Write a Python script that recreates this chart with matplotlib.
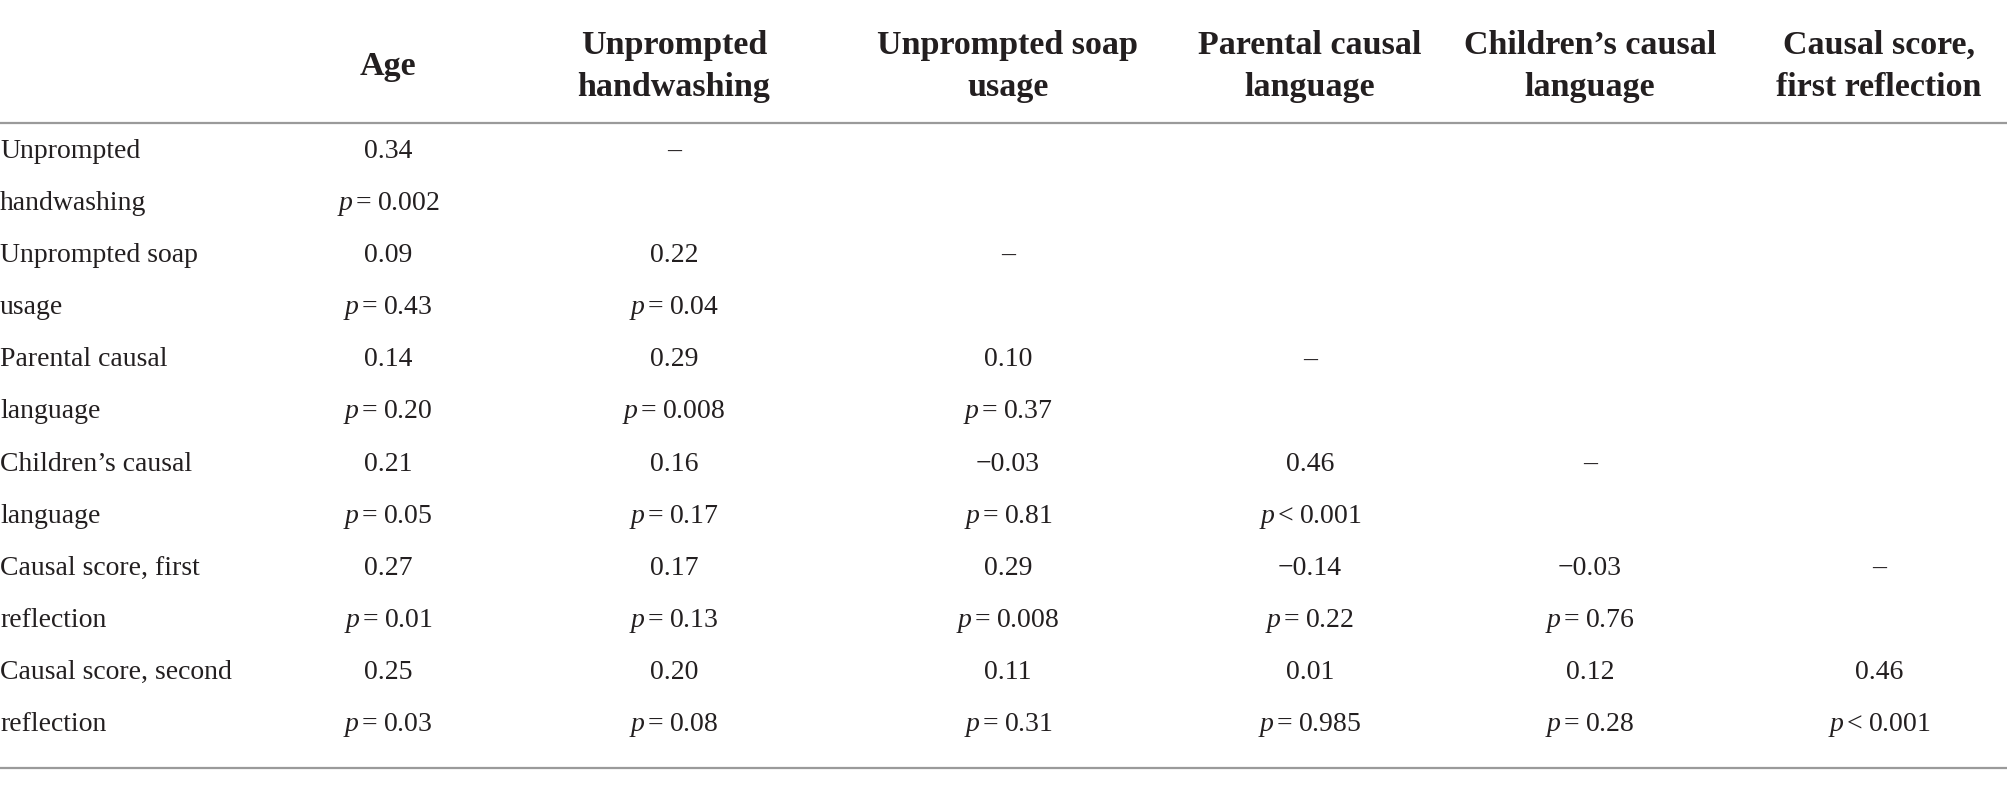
import matplotlib
matplotlib.use("Agg")
from matplotlib import pyplot as plt

# table content
col_labels = ["Age", "Unprompted\nhandwashing", "Unprompted soap\nusage",
              "Parental causal\nlanguage", "Children\u2019s causal\nlanguage",
              "Causal score,\nfirst reflection"]
row_line1 = ["Unprompted", "Unprompted soap", "Parental causal",
             "Children\u2019s causal", "Causal score, first", "Causal score, second"]
row_line2 = ["handwashing", "usage", "language", "language", "reflection", "reflection"]

r_vals = [
    [0.34, None],
    [0.09, 0.22, None],
    [0.14, 0.29, 0.10, None],
    [0.21, 0.16, -0.03, 0.46, None],
    [0.27, 0.17, 0.29, -0.14, -0.03, None],
    [0.25, 0.20, 0.11, 0.01, 0.12, 0.46],
]
p_vals = [
    ["=0.002"],
    ["=0.43", "=0.04"],
    ["=0.20", "=0.008", "=0.37"],
    ["=0.05", "=0.17", "=0.81", "<0.001"],
    ["=0.01", "=0.13", "=0.008", "=0.22", "=0.76"],
    ["=0.03", "=0.08", "=0.31", "=0.985", "=0.28", "<0.001"],
]

TXT = "#231f20"
LINE = "#9a9a9a"
FONT = "Liberation Serif"
plt.rcParams['mathtext.fontset'] = 'custom'
plt.rcParams['mathtext.it'] = 'Liberation Serif:italic'
plt.rcParams['mathtext.rm'] = 'Liberation Serif'

W, H = 2008, 786
fig = plt.figure(figsize=(W / 100, H / 100), dpi=100)
ax = fig.add_axes([0, 0, 1, 1])
ax.set_xlim(0, W)
ax.set_ylim(H, 0)
ax.axis("off")

col_x = [388, 674, 1008, 1310, 1590, 1879]
fs = 20
fs_head = 24.5

# header
for x, lab in zip(col_x, col_labels):
    parts = lab.split("\n")
    if len(parts) == 1:
        ax.text(x, 75, parts[0], ha="center", va="baseline", fontsize=fs_head,
                fontweight="bold", family=FONT, color=TXT)
    else:
        ax.text(x, 54, parts[0], ha="center", va="baseline", fontsize=fs_head,
                fontweight="bold", family=FONT, color=TXT)
        ax.text(x, 96, parts[1], ha="center", va="baseline", fontsize=fs_head,
                fontweight="bold", family=FONT, color=TXT)

ax.plot([0, W], [123, 123], color=LINE, lw=1.6, solid_capstyle="butt")
ax.plot([0, W], [768, 768], color=LINE, lw=1.6, solid_capstyle="butt")

base = 158
step = 52.1
for i in range(len(row_line1)):
    y1 = base + step * 2 * i
    y2 = y1 + step
    ax.text(0, y1, row_line1[i], ha="left", va="baseline", fontsize=fs, family=FONT, color=TXT)
    ax.text(0, y2, row_line2[i], ha="left", va="baseline", fontsize=fs, family=FONT, color=TXT)
    for j, v in enumerate(r_vals[i]):
        if v is None:
            s = "\u2013"
        else:
            s = f"{v:.2f}".replace("-", "\u2212")
        ax.text(col_x[j], y1, s, ha="center", va="baseline", fontsize=fs, family=FONT, color=TXT)
    for j, p in enumerate(p_vals[i]):
        s = r"$p\,$" + p[0] + "\u2009" + p[1:]
        ax.text(col_x[j], y2, s, ha="center", va="baseline", fontsize=fs, family=FONT, color=TXT)

fig.savefig("out.png", dpi=100)
